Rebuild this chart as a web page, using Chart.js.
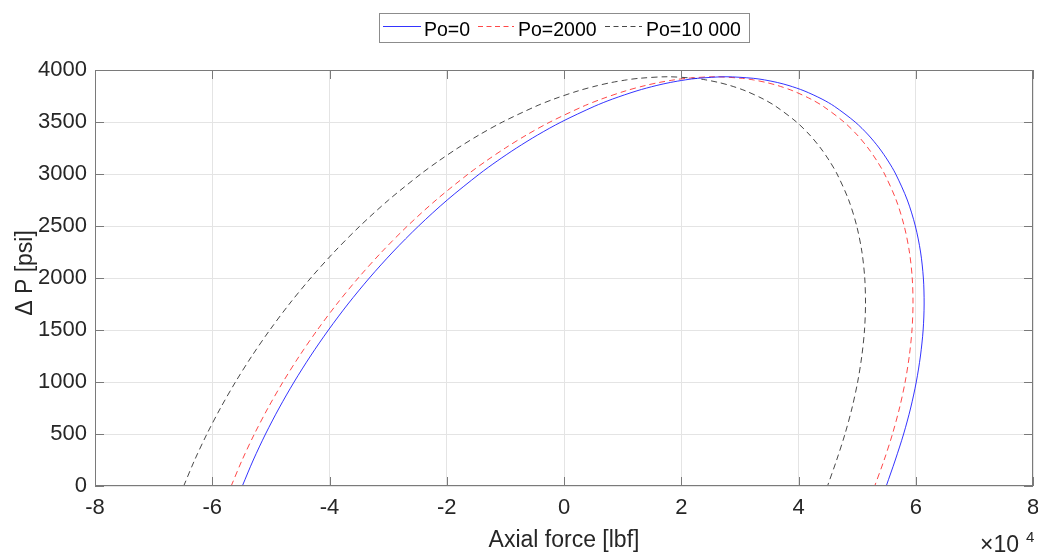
<!DOCTYPE html>
<html>
<head>
<meta charset="utf-8">
<script src="https://cdn.jsdelivr.net/npm/chart.js@4.4.1/dist/chart.umd.min.js"></script>
<style>
  html, body { margin: 0; padding: 0; background: #fff; }
  #wrap { width: 1038px; height: 552px; }
</style>
</head>
<body>
<div id="wrap"><canvas id="c" width="1038" height="552"></canvas></div>
<script>
// ΔP values (psi): left branch going up, then right branch coming down
const deltaP = [0, 250, 500, 750, 1000, 1250, 1500, 1750, 2000, 2250, 2500, 2750, 3000, 3125, 3250, 3375, 3500, 3650, 3720, 3800, 3850, 3880, 3905, 3920, 3935,
                3920, 3905, 3880, 3850, 3800, 3720, 3650, 3500, 3375, 3250, 3125, 3000, 2750, 2500, 2250, 2000, 1750, 1500, 1250, 1000, 750, 500, 250, 0];

// Axial force (x10^4 lbf)
const forcePo0 = [-5.487, -5.300, -5.091, -4.859, -4.604, -4.324, -4.018, -3.685, -3.320, -2.920, -2.480, -1.992, -1.443, -1.139, -0.810, -0.450, -0.048, 0.515, 0.825, 1.245, 1.571, 1.812, 2.068, 2.277, 2.764,
                  3.231, 3.419, 3.639, 3.838, 4.094, 4.402, 4.614, 4.966, 5.192, 5.376, 5.529, 5.658, 5.856, 5.993, 6.082, 6.130, 6.143, 6.126, 6.080, 6.009, 5.913, 5.793, 5.651, 5.497];
const forcePo2000 = [-5.677, -5.490, -5.281, -5.049, -4.794, -4.514, -4.208, -3.875, -3.510, -3.110, -2.670, -2.182, -1.633, -1.329, -1.000, -0.640, -0.238, 0.325, 0.635, 1.055, 1.381, 1.622, 1.878, 2.087, 2.574,
                     3.041, 3.229, 3.449, 3.648, 3.904, 4.212, 4.424, 4.776, 5.002, 5.186, 5.339, 5.468, 5.666, 5.803, 5.892, 5.940, 5.953, 5.936, 5.890, 5.819, 5.723, 5.603, 5.461, 5.300];
const forcePo10000 = [-6.487, -6.300, -6.091, -5.859, -5.604, -5.324, -5.018, -4.685, -4.320, -3.920, -3.480, -2.992, -2.443, -2.139, -1.810, -1.450, -1.048, -0.485, -0.175, 0.245, 0.571, 0.812, 1.068, 1.277, 1.764,
                      2.231, 2.419, 2.639, 2.838, 3.094, 3.402, 3.614, 3.966, 4.192, 4.376, 4.529, 4.658, 4.856, 4.993, 5.082, 5.130, 5.143, 5.126, 5.080, 5.009, 4.913, 4.793, 4.651, 4.495];

const seriesNames = ['Po=0', 'Po=2000', 'Po=10 000'];
const xTicks = [-8, -6, -4, -2, 0, 2, 4, 6, 8];
const yTicks = [0, 500, 1000, 1500, 2000, 2500, 3000, 3500, 4000];

const FONT = '"Liberation Sans", Arial, Helvetica, sans-serif';
const TXT = '#262626';
const AXC = '#7a7a7a';

function pts(f) { return f.map((v, i) => ({ x: v, y: deltaP[i] })); }

const styles = [
  { color: 'rgba(30,30,255,0.9)', dash: [] },
  { color: 'rgba(255,40,40,0.85)', dash: [6, 4] },
  { color: 'rgba(40,40,40,0.85)', dash: [6, 4] }
];

const frame = {
  id: 'frame',
  afterDraw(chart) {
    const { ctx, chartArea: a, scales: { x, y } } = chart;
    ctx.save();
    ctx.strokeStyle = AXC;
    ctx.lineWidth = 1;
    ctx.setLineDash([]);
    ctx.strokeRect(a.left + 0.5, a.top + 0.5, a.right - a.left - 1, a.bottom - a.top - 1);
    ctx.beginPath();
    xTicks.forEach(v => {
      const px = Math.round(x.getPixelForValue(v)) + 0.5;
      ctx.moveTo(px, a.bottom); ctx.lineTo(px, a.bottom - 9);
      ctx.moveTo(px, a.top); ctx.lineTo(px, a.top + 9);
    });
    yTicks.forEach(v => {
      const py = Math.round(y.getPixelForValue(v)) + 0.5;
      ctx.moveTo(a.left, py); ctx.lineTo(a.left + 9, py);
      ctx.moveTo(a.right, py); ctx.lineTo(a.right - 9, py);
    });
    ctx.stroke();

    // axis titles
    ctx.fillStyle = TXT;
    ctx.font = '23px ' + FONT;
    ctx.textAlign = 'center';
    ctx.textBaseline = 'alphabetic';
    ctx.fillText('Axial force [lbf]', (a.left + a.right) / 2, 547);
    ctx.save();
    ctx.translate(32, 273);
    ctx.rotate(-Math.PI / 2);
    ctx.fillText('\u0394 P [psi]', 0, 0);
    ctx.restore();

    // exponent
    ctx.textAlign = 'left';
    ctx.font = '23px ' + FONT;
    ctx.fillText('\u00d710', 980, 552);
    ctx.font = '15px ' + FONT;
    ctx.fillText('4', 1026, 542);

    // legend
    const bx = 379.5, by = 13.5, bw = 370, bh = 29;
    ctx.fillStyle = '#fff';
    ctx.fillRect(bx, by, bw, bh);
    ctx.strokeStyle = '#8c8c8c';
    ctx.strokeRect(bx, by, bw, bh);
    const items = [
      { x0: 383, x1: 421, tx: 424 },
      { x0: 478, x1: 514, tx: 518 },
      { x0: 605, x1: 642, tx: 646 }
    ];
    ctx.font = '19.5px ' + FONT;
    items.forEach((it, i) => {
      ctx.strokeStyle = styles[i].color;
      ctx.setLineDash(styles[i].dash.length ? [5, 3.5] : []);
      ctx.beginPath();
      ctx.moveTo(it.x0, 26.5); ctx.lineTo(it.x1, 26.5);
      ctx.stroke();
      ctx.setLineDash([]);
      ctx.fillStyle = '#000';
      ctx.fillText(seriesNames[i], it.tx, 36);
    });
    ctx.restore();
  }
};

new Chart(document.getElementById('c'), {
  type: 'scatter',
  data: {
    datasets: [forcePo0, forcePo2000, forcePo10000].map((f, i) => ({
      label: seriesNames[i],
      data: pts(f),
      showLine: true,
      borderColor: styles[i].color,
      borderDash: styles[i].dash,
      borderWidth: 1,
      pointRadius: 0,
      tension: 0.3,
      fill: false
    }))
  },
  options: {
    responsive: false,
    devicePixelRatio: 1,
    animation: false,
    layout: { padding: { left: 0, right: 5, top: 70, bottom: 0 } },
    plugins: { legend: { display: false }, tooltip: { enabled: false } },
    scales: {
      x: {
        type: 'linear', min: -8, max: 8,
        afterFit(s) { s.height = 66; s.paddingLeft = 0; s.paddingRight = 0; },
        afterBuildTicks(s) { s.ticks = xTicks.map(v => ({ value: v })); },
        grid: { color: '#e4e4e4', drawTicks: false },
        border: { display: false },
        ticks: { padding: 9, color: TXT, font: { family: FONT, size: 22 }, maxRotation: 0, autoSkip: false,
                 callback: v => String(v) }
      },
      y: {
        type: 'linear', min: 0, max: 4000,
        afterFit(s) { s.width = 95; s.paddingTop = 0; s.paddingBottom = 0; },
        afterBuildTicks(s) { s.ticks = yTicks.map(v => ({ value: v })); },
        grid: { color: '#e4e4e4', drawTicks: false },
        border: { display: false },
        ticks: { padding: 8, color: TXT, font: { family: FONT, size: 22 }, autoSkip: false,
                 callback: v => String(v) }
      }
    }
  },
  plugins: [frame]
});
</script>
</body>
</html>
